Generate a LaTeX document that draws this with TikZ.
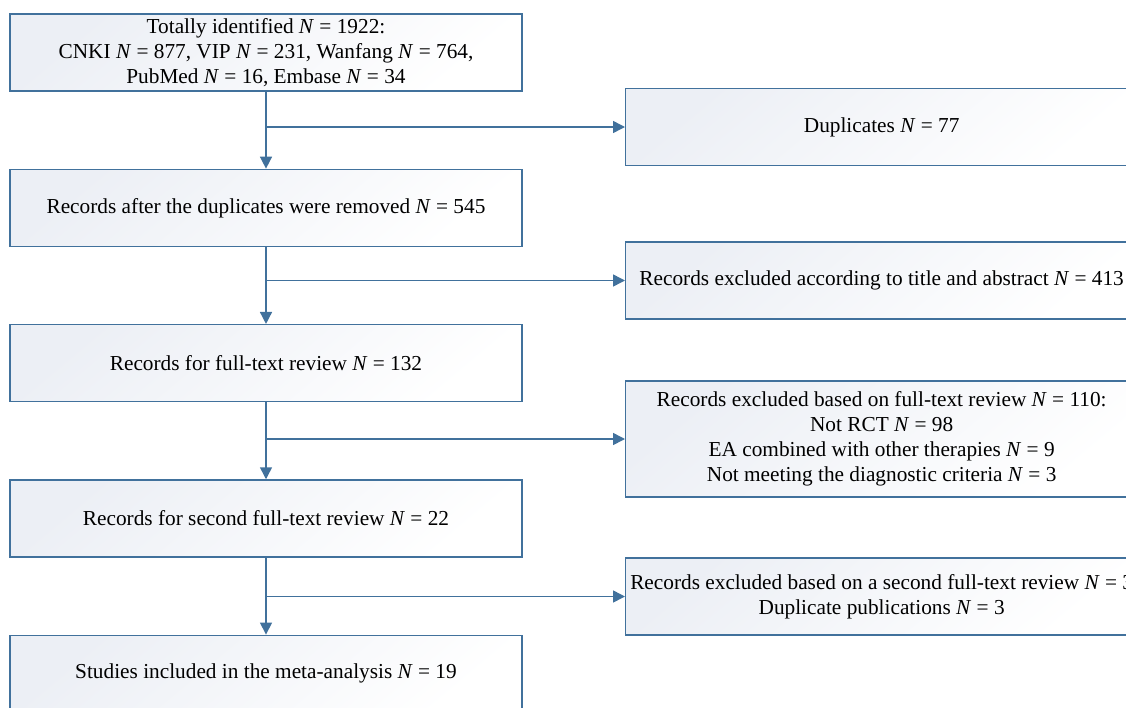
\documentclass[tikz,border=0pt]{standalone}
\usepackage{fontspec}
\setmainfont{Liberation Serif}
\usetikzlibrary{arrows.meta, positioning, calc}
\definecolor{boxline}{RGB}{65,113,156}
\definecolor{boxfill}{RGB}{236,239,245}
\newcommand{\Nn}{\textit{N}}
\tikzset{
    x=1pt, y=-1pt, node distance = 77pt and 103pt,% vertical gap between the main boxes, gap to the side boxes
    stagebox/.style = {rectangle, draw=boxline, line width=1.3pt, minimum width=512pt,
                       minimum height=77pt, align=center, inner sep=2pt,
                       top color=boxfill, bottom color=white, shading angle=40,
                       font=\fontsize{21.3}{25}\selectfont},
    flow/.style = {draw=boxline, line width=1.5pt, -{Triangle[length=12pt, width=12pt]}},
    branch/.style = {draw=boxline, line width=1.5pt}
}
\begin{document}
\begin{tikzpicture}
  \useasboundingbox (0,0) rectangle (1126,707);
  \clip (0,0) rectangle (1126,707);
  % main column
  \node [stagebox] (ident) at (266,52.5)
        {Totally identified \Nn{} = 1922:\\
         CNKI \Nn{} = 877, VIP \Nn{} = 231, Wanfang \Nn{} = 764,\\
         PubMed \Nn{} = 16, Embase \Nn{} = 34};
  \node [stagebox, below=of ident] (removed) {Records after the duplicates were removed \Nn{} = 545};
  \node [stagebox, below=of removed] (fulltext) {Records for full-text review \Nn{} = 132};
  \node [stagebox, below=of fulltext] (second) {Records for second full-text review \Nn{} = 22};
  \node [stagebox, below=of second] (included) {Studies included in the meta-analysis \Nn{} = 19};
  % side boxes
  \node [stagebox, anchor=west] (dup) at (625,127) {Duplicates \Nn{} = 77};
  \node [stagebox, anchor=west] (exclTA) at (625,280.5)
        {Records excluded according to title and abstract \Nn{} = 413};
  \node [stagebox, anchor=west, minimum height=116pt] (exclFT) at (625,439)
        {Records excluded based on full-text review \Nn{} = 110:\\
         Not RCT \Nn{} = 98\\
         EA combined with other therapies \Nn{} = 9\\
         Not meeting the diagnostic criteria \Nn{} = 3};
  \node [stagebox, anchor=west] (exclSec) at (625,596.5)
        {Records excluded based on a second full-text review \Nn{} = 3\\
         Duplicate publications \Nn{} = 3};
  % connectors
  \draw [flow] (ident) -- (removed);
  \draw [flow] (removed) -- (fulltext);
  \draw [flow] (fulltext) -- (second);
  \draw [flow] (second) -- (included);
  \draw [flow] (ident.south |- dup.west) -- (dup.west);
  \draw [flow] (removed.south |- exclTA.west) -- (exclTA.west);
  \draw [flow] (fulltext.south |- exclFT.west) -- (exclFT.west);
  \draw [flow] (second.south |- exclSec.west) -- (exclSec.west);
\end{tikzpicture}
\end{document}
